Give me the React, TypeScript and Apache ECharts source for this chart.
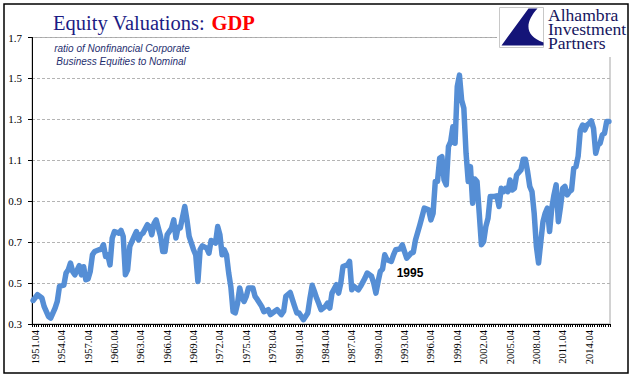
import React, { useEffect, useRef } from "react";
import * as echarts from "echarts";

// ---- categories (quarterly, 1951.01 .. 2016.07) ----
const START_YEAR = 1951;
const QUARTER_MONTHS = ["01", "04", "07", "10"];
const QUARTER_COUNT = 263;
const categories: string[] = Array.from(
  { length: QUARTER_COUNT },
  (_, i) => `${START_YEAR + Math.floor(i / 4)}.${QUARTER_MONTHS[i % 4]}`
);
const X_LABEL_FIRST = 1; // "1951.04"
const X_LABEL_EVERY = 12; // every 3 years

// ---- y tick labels ----
const yTickValues = [0.3, 0.5, 0.7, 0.9, 1.1, 1.3, 1.5, 1.7];

// ---- series: line vertices (quarter index, ratio) ----
const vertexIndex = [
  0, 2, 4, 5, 7, 8, 10, 11, 12, 14, 15, 16, 17, 18, 19, 21, 22, 23, 24, 25, 26, 27, 28, 30, 31, 32, 33, 34, 35, 36, 37,
  39, 40, 41, 42, 43, 44, 46, 47, 48, 49, 50, 52, 53, 54, 55, 56, 58, 59, 60, 61, 63, 64, 65, 66, 67, 69, 70, 71, 73, 74,
  75, 76, 77, 79, 80, 81, 82, 83, 84, 85, 86, 87, 88, 89, 90, 91, 92, 93, 94, 95, 96, 97, 98, 100, 101, 102, 104, 105,
  107, 108, 110, 111, 113, 114, 115, 117, 118, 119, 120, 121, 123, 125, 126, 127, 128, 129, 130, 131, 133, 134, 135, 136,
  138, 139, 140, 141, 143, 144, 145, 146, 148, 149, 151, 152, 154, 155, 156, 157, 158, 159, 160, 161, 163, 164, 165, 167,
  168, 169, 170, 172, 173, 174, 176, 177, 178, 180, 181, 182, 183, 184, 185, 186, 187, 188, 189, 190, 191, 192, 193, 194,
  195, 196, 197, 198, 199, 200, 201, 202, 203, 204, 205, 206, 207, 208, 210, 211, 212, 213, 214, 215, 216, 217, 218, 219,
  220, 222, 223, 224, 225, 226, 227, 228, 229, 230, 231, 232, 233, 234, 235, 236, 237, 238, 239, 240, 241, 242, 243, 244,
  245, 246, 247, 248, 249, 250, 251, 252, 253, 254, 255, 256, 257, 258, 259, 260, 261, 262,
];
const vertexValue = [
  0.415, 0.443, 0.427, 0.386, 0.337, 0.329, 0.378, 0.41, 0.484, 0.49, 0.549, 0.565, 0.598, 0.557, 0.54, 0.585, 0.54, 0.58,
  0.516, 0.52, 0.557, 0.638, 0.654, 0.663, 0.665, 0.687, 0.63, 0.638, 0.589, 0.72, 0.752, 0.744, 0.757, 0.728, 0.541,
  0.565, 0.679, 0.728, 0.752, 0.711, 0.736, 0.744, 0.785, 0.776, 0.736, 0.79, 0.809, 0.728, 0.654, 0.654, 0.736, 0.768,
  0.809, 0.72, 0.773, 0.77, 0.874, 0.809, 0.728, 0.663, 0.638, 0.508, 0.663, 0.682, 0.671, 0.646, 0.708, 0.703, 0.695,
  0.776, 0.736, 0.638, 0.663, 0.638, 0.549, 0.48, 0.36, 0.354, 0.4, 0.476, 0.43, 0.41, 0.435, 0.476, 0.476, 0.435, 0.42,
  0.386, 0.36, 0.37, 0.346, 0.362, 0.37, 0.346, 0.362, 0.435, 0.454, 0.419, 0.386, 0.354, 0.354, 0.321, 0.354, 0.427,
  0.489, 0.459, 0.427, 0.4, 0.37, 0.386, 0.402, 0.378, 0.451, 0.492, 0.451, 0.5, 0.581, 0.589, 0.606, 0.467, 0.484, 0.467,
  0.484, 0.524, 0.549, 0.533, 0.5, 0.451, 0.508, 0.557, 0.568, 0.638, 0.614, 0.606, 0.638, 0.663, 0.667, 0.687, 0.654,
  0.622, 0.646, 0.65, 0.711, 0.785, 0.825, 0.866, 0.858, 0.809, 0.841, 0.996, 0.996, 1.11, 1.118, 1.004, 0.98, 1.167,
  1.191, 1.264, 1.183, 1.46, 1.516, 1.394, 1.354, 1.134, 0.996, 1.069, 0.89, 1.008, 0.996, 0.841, 0.687, 0.703, 0.776,
  0.817, 0.923, 0.923, 0.926, 0.874, 0.963, 0.947, 0.963, 0.947, 1.004, 0.955, 0.963, 1.028, 1.053, 1.105, 1.105, 1.045,
  0.972, 0.947, 0.841, 0.679, 0.598, 0.7, 0.8, 0.841, 0.866, 0.752, 0.866, 0.93, 0.98, 0.8, 0.874, 0.963, 0.972, 0.931,
  0.947, 0.955, 1.061, 1.069, 1.12, 1.248, 1.272, 1.248, 1.272, 1.28, 1.293, 1.256, 1.134, 1.175, 1.183, 1.224, 1.232,
  1.289, 1.289,
];

const TITLE_MAIN = "Equity Valuations:";
const TITLE_ACCENT = "GDP";
const SUBTITLE_1 = "ratio of Nonfinancial Corporate";
const SUBTITLE_2 = "Business Equities to Nominal";
const ANNOTATION = "1995";
const LOGO_LINES = ["Alhambra", "Investment", "Partners"];

const SWOOSH_PATH = "M29,1 L38,1 C26,14 24,28 44,35 L44,38 L2,38 Z";
let swooshRegistered = false;

export default function App() {
  const ref = useRef<HTMLDivElement>(null);

  useEffect(() => {
    if (!ref.current) return;
    if (!swooshRegistered) {
      echarts.graphic.registerShape("logo", echarts.graphic.extendPath(SWOOSH_PATH, {}));
      swooshRegistered = true;
    }
    const chart = echarts.init(ref.current, undefined, { renderer: "svg" });
    const serif = '"Liberation Serif", "Times New Roman", serif';
    const sans = '"Liberation Sans", Arial, sans-serif';
    const navy = "#1c1c84";
    const seriesData = vertexIndex.map((q, k) => [categories[q], vertexValue[k]]);

    chart.setOption({
      animation: false,
      backgroundColor: "#ffffff",
      grid: {
        left: 32,
        right: 31,
        top: 37.5,
        bottom: 57,
        show: true,
        borderColor: "#a6a6a6",
        borderWidth: 1,
        backgroundColor: "transparent",
      },
      xAxis: {
        type: "category",
        data: categories,
        boundaryGap: true,
        axisLine: { show: true, lineStyle: { color: "#000000", width: 1 } },
        axisTick: { show: true, interval: 0, length: 3, lineStyle: { color: "#000000", width: 1 } },
        axisLabel: {
          interval: (idx: number) => (idx - X_LABEL_FIRST) % X_LABEL_EVERY === 0,
          rotate: 90,
          margin: 6,
          fontFamily: serif,
          fontSize: 10.5,
          color: "#000000",
        },
        splitLine: { show: false },
      },
      yAxis: {
        type: "value",
        min: yTickValues[0],
        max: yTickValues[yTickValues.length - 1],
        interval: 0.2,
        axisLine: { show: true, lineStyle: { color: "#000000", width: 1 } },
        axisTick: { show: true, length: 4, lineStyle: { color: "#000000" } },
        axisLabel: {
          formatter: (v: number) => Number(v).toFixed(1),
          margin: 10,
          fontFamily: serif,
          fontSize: 11,
          color: "#000000",
        },
        splitLine: { show: true, lineStyle: { color: "#b4b4b4", type: [3, 2], width: 1 } },
      },
      series: [
        {
          type: "line",
          data: seriesData,
          symbol: "none",
          smooth: false,
          lineStyle: { color: "#558ed5", width: 5.5, join: "round", cap: "round" },
          z: 3,
        },
      ],
      graphic: [
        {
          type: "text",
          x: 53,
          y: 22.5,
          silent: true,
          style: { text: TITLE_MAIN, font: `20.5px ${serif}`, fill: navy, verticalAlign: "middle" },
        },
        {
          type: "text",
          x: 211.5,
          y: 22.5,
          silent: true,
          style: { text: TITLE_ACCENT, font: `bold 20.5px ${serif}`, fill: "#ff0000", verticalAlign: "middle" },
        },
        {
          type: "text",
          x: 122,
          y: 48,
          silent: true,
          style: {
            text: SUBTITLE_1,
            font: `italic 10px ${sans}`,
            fill: "#1f2f6f",
            align: "center",
            verticalAlign: "middle",
          },
        },
        {
          type: "text",
          x: 121,
          y: 61,
          silent: true,
          style: {
            text: SUBTITLE_2,
            font: `italic 10px ${sans}`,
            fill: "#1f2f6f",
            align: "center",
            verticalAlign: "middle",
          },
        },
        {
          type: "text",
          x: 410,
          y: 273,
          silent: true,
          z: 10,
          style: {
            text: ANNOTATION,
            font: `bold 12px ${sans}`,
            fill: "#000000",
            align: "center",
            verticalAlign: "middle",
          },
        },
        // logo area
        {
          type: "rect",
          z: 50,
          silent: true,
          shape: { x: 497, y: 5, width: 131, height: 52 },
          style: { fill: "#ffffff" },
        },
        {
          type: "rect",
          z: 51,
          silent: true,
          shape: { x: 499.5, y: 7.5, width: 44, height: 40 },
          style: { fill: "#ffffff", stroke: "#c8c8c8", lineWidth: 1 },
        },
        {
          type: "logo",
          z: 52,
          silent: true,
          x: 499.5,
          y: 7.5,
          scaleX: 1,
          scaleY: 1,
          style: { fill: "#141478" },
        },
        ...LOGO_LINES.map((t, k) => ({
          type: "text",
          z: 52,
          silent: true,
          x: 548,
          y: 16 + k * 14,
          scaleX: 1.1,
          style: { text: t, font: `16px ${serif}`, fill: "#15155e", verticalAlign: "middle" },
        })),
        {
          type: "rect",
          z: 100,
          silent: true,
          shape: { x: 4, y: 4, width: 624, height: 369 },
          style: { fill: "none", stroke: "#000000", lineWidth: 1.5 },
        },
      ],
    });
    return () => chart.dispose();
  }, []);

  return (
    <div
      ref={ref}
      style={{ position: "absolute", left: 0, top: 0, width: 641, height: 381, background: "#fff" }}
    />
  );
}
